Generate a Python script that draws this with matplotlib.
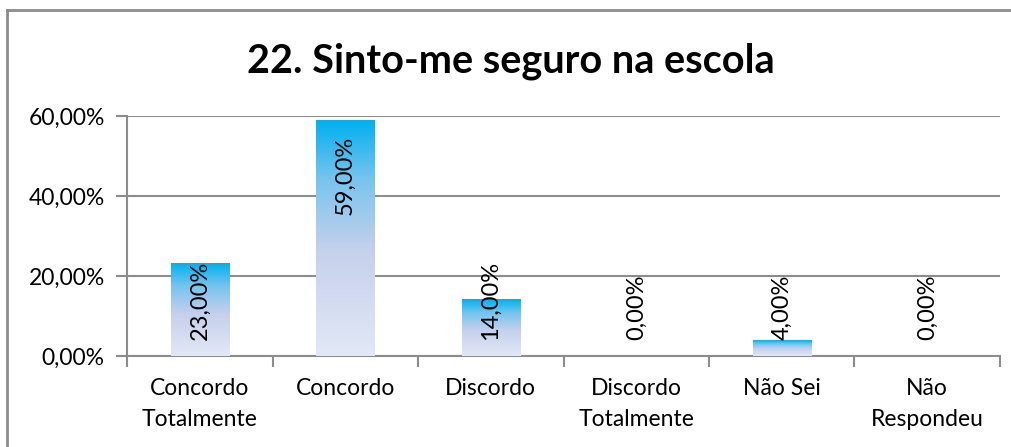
import numpy as np
import matplotlib.pyplot as plt
from matplotlib.colors import LinearSegmentedColormap
from matplotlib.lines import Line2D

# Respostas da questão 22
categorias = ["Concordo\nTotalmente", "Concordo", "Discordo",
              "Discordo\nTotalmente", "Não Sei", "Não\nRespondeu"]
percentuais = [23.0, 59.0, 14.0, 0.0, 4.0, 0.0]
titulo = "22. Sinto-me seguro na escola"
yticks = [0, 20, 40, 60]

plt.rcParams["font.family"] = ["Lato", "DejaVu Sans"]
fs = 16.5

fig = plt.figure(figsize=(10.11, 4.47), dpi=100)
ax = fig.add_axes([127 / 1011, 1 - 356 / 447, (1000 - 127) / 1011, 240 / 447])

# gradiente das barras: ciano no topo, lilás claro na base
grad = LinearSegmentedColormap.from_list(
    "barra", [(0.0, "#E2E8F6"), (0.45, "#C5D0EC"), (0.75, "#78C4EE"), (1.0, "#00B0F0")])
largura = 0.4
x = np.arange(len(categorias))
barras = ax.bar(x, percentuais, width=largura, color="none", zorder=3)
for b, v in zip(barras, percentuais):
    if v <= 0:
        continue
    x0 = b.get_x()
    g = np.linspace(0, 1, 256).reshape(-1, 1)
    ax.imshow(g, cmap=grad, origin="lower", aspect="auto",
              extent=(x0, x0 + largura, 0, v), zorder=3)

# rótulos de valor, verticais
for xi, v in zip(x, percentuais):
    rot = f"{v:.2f}%".replace(".", ",")
    base = max(v - 4.3 - 19.5, 4.0)
    ax.text(xi, base, rot, rotation=90, ha="center", va="bottom",
            fontsize=fs + 0.5, color="black", zorder=4)

ax.set_xlim(-0.5, len(categorias) - 0.5)
ax.set_ylim(0, 60)
ax.set_yticks(yticks)
ax.set_yticklabels([f"{t:.2f}%".replace(".", ",") for t in yticks], fontsize=fs)
ax.set_xticks(x)
ax.set_xticklabels(categorias, fontsize=fs, linespacing=1.55)
ax.set_xticks(np.arange(-0.5, len(categorias)), minor=True)
ax.tick_params(axis="x", which="major", length=0, pad=16)
ax.tick_params(axis="x", which="minor", length=8, width=1.5, color="#8C8C8C")
ax.tick_params(axis="y", length=8, width=1.5, color="#8C8C8C", pad=8)

ax.grid(axis="y", color="#8C8C8C", linewidth=1.5, zorder=0)
ax.set_axisbelow(True)
for s in ["top", "right"]:
    ax.spines[s].set_visible(False)
for s in ["left", "bottom"]:
    ax.spines[s].set_color("#8C8C8C")
    ax.spines[s].set_linewidth(1.5)

fig.text(511 / 1011, 1 - 61 / 447, titulo, ha="center", va="center",
         fontsize=28.5, fontweight="bold")

# moldura do gráfico (topo e lado esquerdo)
fig.add_artist(Line2D([7 / 1011, 1.0], [1 - 10 / 447, 1 - 10 / 447],
                      transform=fig.transFigure, color="#8C8C8C", linewidth=2))
fig.add_artist(Line2D([7 / 1011, 7 / 1011], [0, 1 - 10 / 447],
                      transform=fig.transFigure, color="#8C8C8C", linewidth=2))

fig.savefig("out.png", dpi=100)
